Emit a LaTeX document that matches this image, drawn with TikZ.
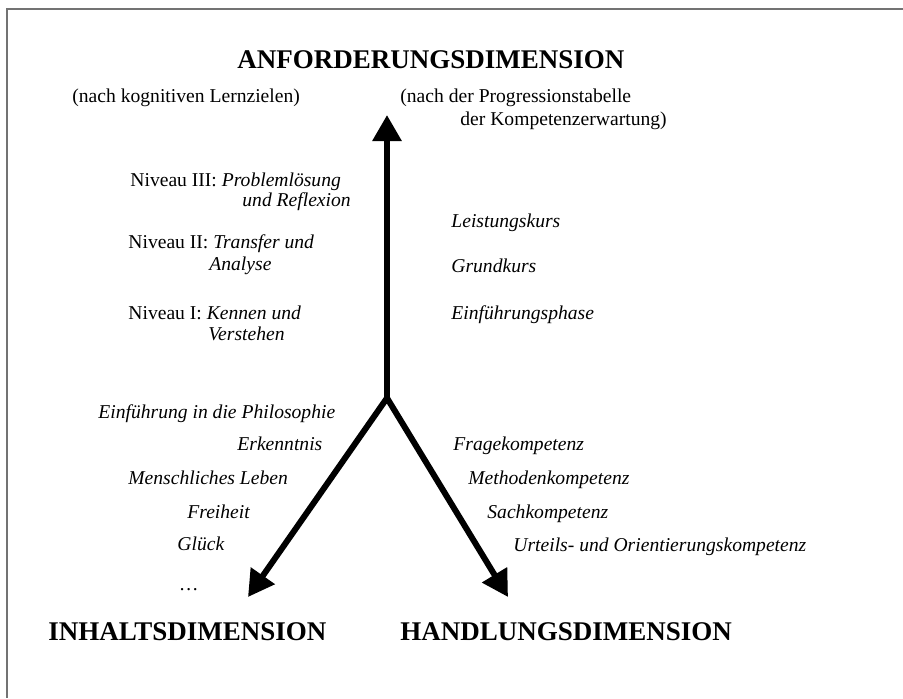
\documentclass[tikz,border=0pt]{standalone}
\usepackage{fontspec}
\setmainfont{Liberation Serif}
\usetikzlibrary{arrows.meta}
\tikzset{
  body/.style={anchor=base west, inner sep=0pt, font=\fontsize{9.8}{11}\selectfont},
  bodyit/.style={body, font=\fontsize{9.8}{11}\selectfont\itshape},
  head/.style={anchor=base west, inner sep=0pt, font=\fontsize{13.5}{16}\selectfont\bfseries},
  axis/.style={line width=3pt, -{Triangle[width=14pt,length=13pt]}},
  frameline/.style={draw=black!55, line width=1pt}
}
\begin{document}
\begin{tikzpicture}[x=0.5pt, y=-0.5pt]
\useasboundingbox (0,0) rectangle (903,698);
\fill[white] (0,0) rectangle (903,698);
% frame
\coordinate (fTR) at (903,9);
\coordinate (fTL) at (7,9);
\coordinate (fBL) at (7,698);
\draw[frameline] (fTR) -- (fTL) -- (fBL);

% headings
\node[head] (anf) at (237,68) {ANFORDERUNGSDIMENSION};
\node[body] (kog) at (72,102) {(nach kognitiven Lernzielen)};
\node[body] (prog1) at (400,102) {(nach der Progressionstabelle};
\node[body] (prog2) at (460,125) {der Kompetenzerwartung)};

% levels left
\node[body] (n3a) at (130,186) {Niveau III: \textit{Problemlösung}};
\node[bodyit] (n3b) at (242,206) {und Reflexion};
\node[body] (n2a) at (128,248) {Niveau II: \textit{Transfer und}};
\node[bodyit] (n2b) at (209,270) {Analyse};
\node[body] (n1a) at (128,319) {Niveau I: \textit{Kennen und}};
\node[bodyit] (n1b) at (208,340) {Verstehen};

% levels right
\node[bodyit] (lk) at (451,227) {Leistungskurs};
\node[bodyit] (gk) at (451,272) {Grundkurs};
\node[bodyit] (ep) at (451,319) {Einführungsphase};

% content list
\node[bodyit] (c1) at (98,418) {Einführung in die Philosophie};
\node[bodyit] (c2) at (237,450) {Erkenntnis};
\node[bodyit] (c3) at (128,484) {Menschliches Leben};
\node[bodyit] (c4) at (187,518) {Freiheit};
\node[bodyit] (c5) at (177,550) {Glück};
\node[bodyit] (c6) at (180,590) {\ldots};

% competence list
\node[bodyit] (k1) at (453,450) {Fragekompetenz};
\node[bodyit] (k2) at (468,484) {Methodenkompetenz};
\node[bodyit] (k3) at (487,518) {Sachkompetenz};
\node[bodyit] (k4) at (513,551) {Urteils- und Orientierungskompetenz};

% bottom headings
\node[head] (inh) at (48,640) {INHALTSDIMENSION};
\node[head] (hnd) at (400,640) {HANDLUNGSDIMENSION};

% axes
\coordinate (J) at (387,398);
\coordinate (up) at (387,115);
\coordinate (lt) at (248,597);
\coordinate (rt) at (508,597);
\draw[axis] (J) -- (up);
\draw[axis, {Triangle[width=14pt,length=13pt]}-{Triangle[width=14pt,length=13pt]}, line join=miter] (lt) -- (J) -- (rt);
\end{tikzpicture}
\end{document}
